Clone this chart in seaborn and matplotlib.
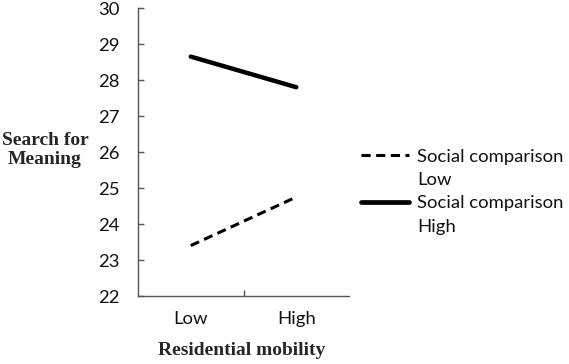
import matplotlib
matplotlib.use("Agg")
import matplotlib.pyplot as plt
from matplotlib.lines import Line2D
import seaborn as sns
import pandas as pd

categories = ["Low", "High"]
series_names = ["Social comparison Low", "Social comparison High"]
legend_lines = [("Social comparison", "Low"), ("Social comparison", "High")]
low_values = [23.4, 24.75]
high_values = [28.65, 27.8]
y_ticks = [22, 23, 24, 25, 26, 27, 28, 29, 30]

sns.set_theme(style="white")
plt.rcParams['font.family'] = ['Lato', 'DejaVu Sans']

df = pd.DataFrame({
    "mobility": categories * 2,
    "value": low_values + high_values,
    "group": [series_names[0]] * 2 + [series_names[1]] * 2,
})

fig = plt.figure(figsize=(5.69, 3.64), dpi=100)
ax = fig.add_axes([0.2425, 0.1868, 0.3709, 0.7912])

DASH = (0, (3, 1.8))
sns.lineplot(data=df[df.group == series_names[0]], x="mobility", y="value",
             color="black", linewidth=2.2, ax=ax, legend=False)
sns.lineplot(data=df[df.group == series_names[1]], x="mobility", y="value",
             color="black", linewidth=3.2, ax=ax, legend=False)
ax.lines[0].set_linestyle(DASH)
ax.lines[0].set_dash_capstyle("butt")

TICK_FS = 13.3
ax.set_xlim(-0.5, 1.5)
ax.set_ylim(22, 30)
ax.set_yticks(y_ticks)
ax.set_yticklabels([str(t) for t in y_ticks], fontsize=TICK_FS, color="#111111")
ax.set_xticks([0, 1])
ax.set_xticklabels(categories, fontsize=TICK_FS, color="#111111")
ax.set_xticks([0.5], minor=True)
ax.tick_params(axis="x", which="major", length=0, pad=11)
ax.tick_params(axis="x", which="minor", direction="in", length=4, width=1, color="#555555", bottom=True)
ax.tick_params(axis="y", which="major", direction="in", length=4, width=1, color="#555555", pad=13, left=True)

for s in ["top", "right"]:
    ax.spines[s].set_visible(False)
for s in ["left", "bottom"]:
    ax.spines[s].set_color("#555555")
    ax.spines[s].set_linewidth(1.0)

ax.set_xlabel("")
ax.set_ylabel("")
fig.text(0.079, 0.588, "Search for\nMeaning", fontsize=14, fontweight="bold",
         family="Liberation Serif", ha="center", va="center", linespacing=1.15)
fig.text(0.4253, 0.036, "Residential mobility", fontsize=14, fontweight="bold",
         family="Liberation Serif", ha="center", va="center")

handles = [
    Line2D([], [], color="black", linewidth=2.2, linestyle=DASH, dash_capstyle="butt"),
    Line2D([], [], color="none"),
    Line2D([], [], color="black", linewidth=3.4),
    Line2D([], [], color="none"),
]
labels = [legend_lines[0][0], legend_lines[0][1], legend_lines[1][0], legend_lines[1][1]]
leg = ax.legend(handles, labels, loc="upper left", bbox_to_anchor=(0.634, 0.592),
                bbox_transform=fig.transFigure, frameon=False, fontsize=TICK_FS,
                handlelength=2.6, handletextpad=0.45, labelspacing=0.40, borderpad=0,
                borderaxespad=0)
for t in leg.get_texts():
    t.set_color("#111111")

fig.savefig("out.png", dpi=100)
